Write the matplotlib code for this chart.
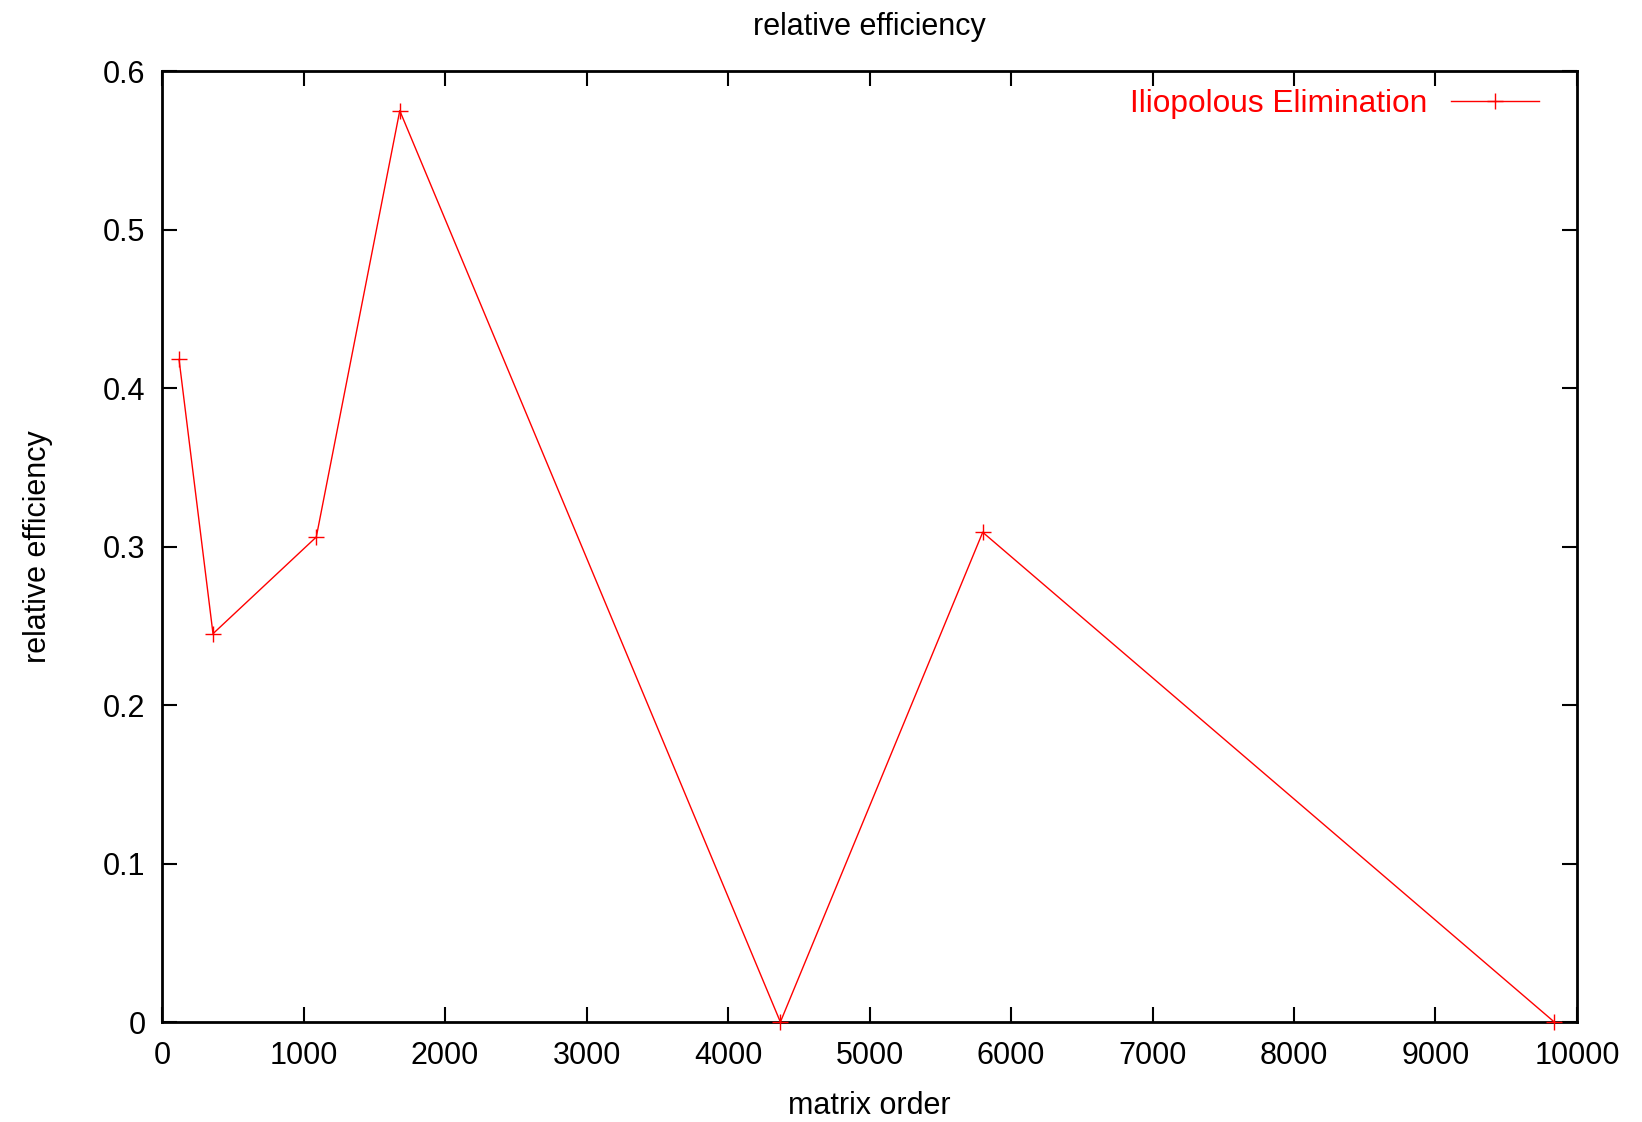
import matplotlib
matplotlib.use("Agg")
import matplotlib.pyplot as plt

# data
order = [120, 360, 1090, 1680, 4370, 5800, 9840]
efficiency = [0.418, 0.245, 0.306, 0.575, 0.0, 0.309, 0.0]
xticks = [0, 1000, 2000, 3000, 4000, 5000, 6000, 7000, 8000, 9000, 10000]
yticks = [0, 0.1, 0.2, 0.3, 0.4, 0.5, 0.6]

plt.rcParams['font.family'] = ['Liberation Sans', 'DejaVu Sans']

fig = plt.figure(figsize=(16.42, 11.22), dpi=100)
ax = fig.add_axes([0.0987, 0.0891, 0.8617, 0.8476])

ax.plot(order, efficiency, color='red', linewidth=1.0, marker='+',
        markersize=11, markeredgewidth=1.0, label='Iliopolous Elimination',
        clip_on=False, zorder=3)

ax.set_xlim(0, 10000)
ax.set_ylim(0, 0.6)
ax.set_xticks(xticks)
ax.set_xticklabels([str(t) for t in xticks])
ax.set_yticks(yticks)
ax.set_yticklabels(['0', '0.1', '0.2', '0.3', '0.4', '0.5', '0.6'])
ax.tick_params(direction='in', length=11, width=1.5, labelsize=22,
               top=True, right=True)
ax.tick_params(axis='x', pad=14)
ax.tick_params(axis='y', pad=12)
for s in ax.spines.values():
    s.set_linewidth(2)

ax.set_xlabel('matrix order', fontsize=22, labelpad=14)
ax.set_ylabel('relative efficiency', fontsize=22, labelpad=36)
ax.set_title('relative efficiency', fontsize=22, pad=26)

leg = ax.legend(loc='upper right', bbox_to_anchor=(0.980, 0.991),
                frameon=False, markerfirst=False, prop={'size': 22.8},
                handlelength=2.8, borderaxespad=0, borderpad=0.3,
                handletextpad=0.75)
for t in leg.get_texts():
    t.set_color('red')

fig.savefig('out.png', dpi=100)
